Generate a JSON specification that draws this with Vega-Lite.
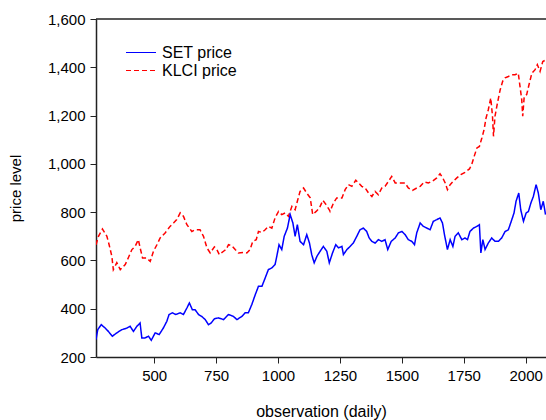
{
  "$schema": "https://vega.github.io/schema/vega-lite/v6.json",
  "width": 450,
  "height": 338,
  "autosize": "none",
  "padding": {"left": 96, "top": 19, "right": 0, "bottom": 63},
  "background": "white",
  "config": {
    "view": {"stroke": null},
    "font": "Liberation Sans",
    "axis": {
      "grid": false,
      "domainColor": "#222222",
      "domainWidth": 1.5,
      "tickColor": "#222222",
      "tickWidth": 1,
      "tickSize": 6,
      "labelFontSize": 15,
      "labelColor": "#000000",
      "labelFont": "Liberation Sans",
      "titleFont": "Liberation Sans",
      "titleFontSize": 15,
      "titleFontWeight": "normal",
      "titleColor": "#000000"
    },
    "legend": {
      "labelFont": "Liberation Sans",
      "labelFontSize": 16,
      "labelColor": "#000000",
      "symbolType": "M-2,0H2",
      "symbolSize": 225,
      "symbolStrokeWidth": 1.2,
      "labelOffset": 12.5,
      "rowPadding": 1,
      "padding": 0
    }
  },
  "layer": [
    {
      "data": {
        "values": [
          {"series":"KLCI price","obs":265,"price":665},{"series":"KLCI price","obs":275,"price":700},{"series":"KLCI price","obs":291,"price":730},{"series":"KLCI price","obs":309,"price":700},{"series":"KLCI price","obs":318,"price":665},{"series":"KLCI price","obs":329,"price":617},{"series":"KLCI price","obs":335,"price":562},{"series":"KLCI price","obs":349,"price":591},{"series":"KLCI price","obs":363,"price":562},{"series":"KLCI price","obs":383,"price":583},{"series":"KLCI price","obs":396,"price":612},{"series":"KLCI price","obs":410,"price":645},{"series":"KLCI price","obs":423,"price":658},{"series":"KLCI price","obs":436,"price":686},{"series":"KLCI price","obs":443,"price":653},{"series":"KLCI price","obs":453,"price":610},{"series":"KLCI price","obs":470,"price":610},{"series":"KLCI price","obs":484,"price":596},{"series":"KLCI price","obs":497,"price":638},{"series":"KLCI price","obs":511,"price":665},{"series":"KLCI price","obs":524,"price":693},{"series":"KLCI price","obs":544,"price":714},{"series":"KLCI price","obs":564,"price":741},{"series":"KLCI price","obs":578,"price":755},{"series":"KLCI price","obs":591,"price":769},{"series":"KLCI price","obs":605,"price":797},{"series":"KLCI price","obs":618,"price":783},{"series":"KLCI price","obs":632,"price":748},{"series":"KLCI price","obs":652,"price":720},{"series":"KLCI price","obs":665,"price":727},{"series":"KLCI price","obs":685,"price":727},{"series":"KLCI price","obs":699,"price":700},{"series":"KLCI price","obs":713,"price":652},{"series":"KLCI price","obs":726,"price":631},{"series":"KLCI price","obs":743,"price":656},{"series":"KLCI price","obs":753,"price":645},{"series":"KLCI price","obs":763,"price":624},{"series":"KLCI price","obs":780,"price":638},{"series":"KLCI price","obs":790,"price":645},{"series":"KLCI price","obs":800,"price":665},{"series":"KLCI price","obs":813,"price":661},{"series":"KLCI price","obs":827,"price":645},{"series":"KLCI price","obs":840,"price":631},{"series":"KLCI price","obs":860,"price":633},{"series":"KLCI price","obs":874,"price":631},{"series":"KLCI price","obs":887,"price":645},{"series":"KLCI price","obs":898,"price":679},{"series":"KLCI price","obs":912,"price":686},{"series":"KLCI price","obs":921,"price":720},{"series":"KLCI price","obs":935,"price":716},{"series":"KLCI price","obs":948,"price":727},{"series":"KLCI price","obs":961,"price":741},{"series":"KLCI price","obs":975,"price":734},{"series":"KLCI price","obs":988,"price":776},{"series":"KLCI price","obs":1002,"price":803},{"series":"KLCI price","obs":1015,"price":790},{"series":"KLCI price","obs":1029,"price":797},{"series":"KLCI price","obs":1042,"price":783},{"series":"KLCI price","obs":1056,"price":824},{"series":"KLCI price","obs":1069,"price":810},{"series":"KLCI price","obs":1078,"price":845},{"series":"KLCI price","obs":1089,"price":886},{"series":"KLCI price","obs":1103,"price":900},{"series":"KLCI price","obs":1116,"price":879},{"series":"KLCI price","obs":1130,"price":859},{"series":"KLCI price","obs":1140,"price":790},{"series":"KLCI price","obs":1154,"price":803},{"series":"KLCI price","obs":1167,"price":817},{"series":"KLCI price","obs":1181,"price":849},{"series":"KLCI price","obs":1194,"price":831},{"series":"KLCI price","obs":1207,"price":810},{"series":"KLCI price","obs":1210,"price":803},{"series":"KLCI price","obs":1224,"price":838},{"series":"KLCI price","obs":1237,"price":859},{"series":"KLCI price","obs":1258,"price":859},{"series":"KLCI price","obs":1271,"price":893},{"series":"KLCI price","obs":1284,"price":914},{"series":"KLCI price","obs":1298,"price":907},{"series":"KLCI price","obs":1314,"price":932},{"series":"KLCI price","obs":1325,"price":921},{"series":"KLCI price","obs":1338,"price":907},{"series":"KLCI price","obs":1352,"price":900},{"series":"KLCI price","obs":1365,"price":880},{"series":"KLCI price","obs":1379,"price":865},{"series":"KLCI price","obs":1392,"price":886},{"series":"KLCI price","obs":1405,"price":872},{"series":"KLCI price","obs":1419,"price":900},{"series":"KLCI price","obs":1432,"price":907},{"series":"KLCI price","obs":1446,"price":928},{"series":"KLCI price","obs":1459,"price":948},{"series":"KLCI price","obs":1473,"price":921},{"series":"KLCI price","obs":1486,"price":921},{"series":"KLCI price","obs":1500,"price":921},{"series":"KLCI price","obs":1513,"price":921},{"series":"KLCI price","obs":1526,"price":900},{"series":"KLCI price","obs":1543,"price":890},{"series":"KLCI price","obs":1560,"price":900},{"series":"KLCI price","obs":1574,"price":907},{"series":"KLCI price","obs":1591,"price":925},{"series":"KLCI price","obs":1607,"price":921},{"series":"KLCI price","obs":1623,"price":928},{"series":"KLCI price","obs":1641,"price":942},{"series":"KLCI price","obs":1654,"price":959},{"series":"KLCI price","obs":1665,"price":942},{"series":"KLCI price","obs":1675,"price":921},{"series":"KLCI price","obs":1684,"price":893},{"series":"KLCI price","obs":1695,"price":914},{"series":"KLCI price","obs":1708,"price":928},{"series":"KLCI price","obs":1722,"price":942},{"series":"KLCI price","obs":1738,"price":955},{"series":"KLCI price","obs":1755,"price":965},{"series":"KLCI price","obs":1773,"price":979},{"series":"KLCI price","obs":1782,"price":997},{"series":"KLCI price","obs":1792,"price":1031},{"series":"KLCI price","obs":1803,"price":1066},{"series":"KLCI price","obs":1813,"price":1072},{"series":"KLCI price","obs":1823,"price":1107},{"series":"KLCI price","obs":1832,"price":1142},{"series":"KLCI price","obs":1840,"price":1190},{"series":"KLCI price","obs":1849,"price":1224},{"series":"KLCI price","obs":1859,"price":1273},{"series":"KLCI price","obs":1866,"price":1197},{"series":"KLCI price","obs":1870,"price":1114},{"series":"KLCI price","obs":1876,"price":1197},{"series":"KLCI price","obs":1886,"price":1252},{"series":"KLCI price","obs":1897,"price":1307},{"series":"KLCI price","obs":1907,"price":1342},{"series":"KLCI price","obs":1917,"price":1356},{"series":"KLCI price","obs":1930,"price":1362},{"series":"KLCI price","obs":1944,"price":1369},{"series":"KLCI price","obs":1957,"price":1369},{"series":"KLCI price","obs":1970,"price":1376},{"series":"KLCI price","obs":1977,"price":1321},{"series":"KLCI price","obs":1984,"price":1266},{"series":"KLCI price","obs":1988,"price":1197},{"series":"KLCI price","obs":1994,"price":1279},{"series":"KLCI price","obs":2004,"price":1287},{"series":"KLCI price","obs":2015,"price":1335},{"series":"KLCI price","obs":2025,"price":1376},{"series":"KLCI price","obs":2038,"price":1390},{"series":"KLCI price","obs":2047,"price":1411},{"series":"KLCI price","obs":2058,"price":1383},{"series":"KLCI price","obs":2069,"price":1424},{"series":"KLCI price","obs":2082,"price":1431},
          {"series":"SET price","obs":265,"price":272},{"series":"SET price","obs":272,"price":313},{"series":"SET price","obs":286,"price":334},{"series":"SET price","obs":302,"price":320},{"series":"SET price","obs":315,"price":306},{"series":"SET price","obs":331,"price":286},{"series":"SET price","obs":349,"price":300},{"series":"SET price","obs":369,"price":313},{"series":"SET price","obs":390,"price":320},{"series":"SET price","obs":403,"price":327},{"series":"SET price","obs":416,"price":306},{"series":"SET price","obs":430,"price":327},{"series":"SET price","obs":443,"price":341},{"series":"SET price","obs":450,"price":279},{"series":"SET price","obs":463,"price":279},{"series":"SET price","obs":477,"price":286},{"series":"SET price","obs":488,"price":269},{"series":"SET price","obs":504,"price":300},{"series":"SET price","obs":520,"price":293},{"series":"SET price","obs":537,"price":320},{"series":"SET price","obs":551,"price":348},{"series":"SET price","obs":560,"price":376},{"series":"SET price","obs":574,"price":383},{"series":"SET price","obs":587,"price":376},{"series":"SET price","obs":605,"price":383},{"series":"SET price","obs":618,"price":376},{"series":"SET price","obs":632,"price":403},{"series":"SET price","obs":642,"price":424},{"series":"SET price","obs":654,"price":396},{"series":"SET price","obs":665,"price":396},{"series":"SET price","obs":679,"price":376},{"series":"SET price","obs":692,"price":368},{"series":"SET price","obs":706,"price":355},{"series":"SET price","obs":719,"price":334},{"series":"SET price","obs":730,"price":341},{"series":"SET price","obs":743,"price":358},{"series":"SET price","obs":759,"price":362},{"series":"SET price","obs":780,"price":355},{"series":"SET price","obs":800,"price":376},{"series":"SET price","obs":820,"price":368},{"series":"SET price","obs":834,"price":355},{"series":"SET price","obs":854,"price":368},{"series":"SET price","obs":867,"price":383},{"series":"SET price","obs":880,"price":383},{"series":"SET price","obs":894,"price":417},{"series":"SET price","obs":908,"price":458},{"series":"SET price","obs":921,"price":493},{"series":"SET price","obs":935,"price":493},{"series":"SET price","obs":948,"price":527},{"series":"SET price","obs":961,"price":562},{"series":"SET price","obs":975,"price":569},{"series":"SET price","obs":988,"price":583},{"series":"SET price","obs":995,"price":617},{"series":"SET price","obs":1004,"price":665},{"series":"SET price","obs":1015,"price":645},{"series":"SET price","obs":1025,"price":700},{"series":"SET price","obs":1038,"price":734},{"series":"SET price","obs":1049,"price":790},{"series":"SET price","obs":1060,"price":755},{"series":"SET price","obs":1069,"price":700},{"series":"SET price","obs":1078,"price":748},{"series":"SET price","obs":1089,"price":679},{"series":"SET price","obs":1103,"price":665},{"series":"SET price","obs":1116,"price":707},{"series":"SET price","obs":1127,"price":672},{"series":"SET price","obs":1136,"price":624},{"series":"SET price","obs":1146,"price":590},{"series":"SET price","obs":1157,"price":617},{"series":"SET price","obs":1170,"price":638},{"series":"SET price","obs":1183,"price":658},{"series":"SET price","obs":1197,"price":638},{"series":"SET price","obs":1207,"price":590},{"series":"SET price","obs":1220,"price":631},{"series":"SET price","obs":1233,"price":665},{"series":"SET price","obs":1244,"price":652},{"series":"SET price","obs":1258,"price":658},{"series":"SET price","obs":1264,"price":624},{"series":"SET price","obs":1278,"price":645},{"series":"SET price","obs":1291,"price":658},{"series":"SET price","obs":1304,"price":672},{"series":"SET price","obs":1318,"price":700},{"series":"SET price","obs":1331,"price":727},{"series":"SET price","obs":1345,"price":734},{"series":"SET price","obs":1358,"price":720},{"series":"SET price","obs":1368,"price":693},{"series":"SET price","obs":1379,"price":679},{"series":"SET price","obs":1392,"price":672},{"series":"SET price","obs":1405,"price":686},{"series":"SET price","obs":1419,"price":679},{"series":"SET price","obs":1432,"price":686},{"series":"SET price","obs":1443,"price":645},{"series":"SET price","obs":1457,"price":679},{"series":"SET price","obs":1473,"price":693},{"series":"SET price","obs":1486,"price":714},{"series":"SET price","obs":1500,"price":720},{"series":"SET price","obs":1513,"price":707},{"series":"SET price","obs":1526,"price":686},{"series":"SET price","obs":1540,"price":679},{"series":"SET price","obs":1551,"price":665},{"series":"SET price","obs":1560,"price":714},{"series":"SET price","obs":1574,"price":755},{"series":"SET price","obs":1587,"price":741},{"series":"SET price","obs":1601,"price":734},{"series":"SET price","obs":1614,"price":727},{"series":"SET price","obs":1627,"price":762},{"series":"SET price","obs":1641,"price":769},{"series":"SET price","obs":1654,"price":776},{"series":"SET price","obs":1664,"price":755},{"series":"SET price","obs":1672,"price":707},{"series":"SET price","obs":1684,"price":645},{"series":"SET price","obs":1695,"price":686},{"series":"SET price","obs":1706,"price":658},{"series":"SET price","obs":1715,"price":700},{"series":"SET price","obs":1728,"price":714},{"series":"SET price","obs":1742,"price":686},{"series":"SET price","obs":1755,"price":693},{"series":"SET price","obs":1765,"price":686},{"series":"SET price","obs":1775,"price":720},{"series":"SET price","obs":1789,"price":734},{"series":"SET price","obs":1803,"price":741},{"series":"SET price","obs":1813,"price":748},{"series":"SET price","obs":1819,"price":631},{"series":"SET price","obs":1827,"price":686},{"series":"SET price","obs":1836,"price":645},{"series":"SET price","obs":1849,"price":672},{"series":"SET price","obs":1863,"price":693},{"series":"SET price","obs":1876,"price":679},{"series":"SET price","obs":1890,"price":679},{"series":"SET price","obs":1903,"price":693},{"series":"SET price","obs":1917,"price":720},{"series":"SET price","obs":1930,"price":727},{"series":"SET price","obs":1944,"price":769},{"series":"SET price","obs":1953,"price":797},{"series":"SET price","obs":1961,"price":845},{"series":"SET price","obs":1972,"price":879},{"series":"SET price","obs":1980,"price":810},{"series":"SET price","obs":1991,"price":762},{"series":"SET price","obs":2002,"price":797},{"series":"SET price","obs":2011,"price":803},{"series":"SET price","obs":2021,"price":838},{"series":"SET price","obs":2031,"price":865},{"series":"SET price","obs":2042,"price":914},{"series":"SET price","obs":2051,"price":879},{"series":"SET price","obs":2061,"price":810},{"series":"SET price","obs":2071,"price":845},{"series":"SET price","obs":2080,"price":790}
        ]
      },
      "mark": {"type": "line", "strokeWidth": 1.5, "clip": true},
      "encoding": {
        "x": {
          "field": "obs",
          "type": "quantitative",
          "scale": {"domain": [265, 2082], "nice": false, "zero": false},
          "axis": {
            "values": [500, 750, 1000, 1250, 1500, 1750, 2000],
            "format": "d",
            "labelPadding": 5,
            "title": "observation (daily)",
            "titleFontSize": 16,
            "titleX": 225,
            "titleY": 59,
            "titleBaseline": "alphabetic",
            "titleAlign": "center"
          }
        },
        "y": {
          "field": "price",
          "type": "quantitative",
          "scale": {"domain": [200, 1600], "nice": false, "zero": false},
          "axis": {
            "values": [200, 400, 600, 800, 1000, 1200, 1400, 1600],
            "format": ",.0f",
            "labelPadding": 5,
            "title": "price level",
            "titleX": -81,
            "titleY": 169,
            "titleAngle": -90,
            "titleAlign": "center",
            "titleBaseline": "middle"
          }
        },
        "color": {
          "field": "series",
          "type": "nominal",
          "scale": {"domain": ["SET price", "KLCI price"], "range": ["#0000ff", "#ff0000"]},
          "legend": {"title": null, "orient": "none", "legendX": 36.5, "legendY": 25}
        },
        "strokeDash": {
          "field": "series",
          "type": "nominal",
          "scale": {"domain": ["SET price", "KLCI price"], "range": [[1, 0], [5, 3]]},
          "legend": {"title": null, "orient": "none", "legendX": 36.5, "legendY": 25}
        }
      }
    },
    {
      "data": {"values": [{}]},
      "mark": {"type": "rule", "color": "#222222", "strokeWidth": 1.5},
      "encoding": {"y": {"datum": 1600}}
    }
  ]
}
